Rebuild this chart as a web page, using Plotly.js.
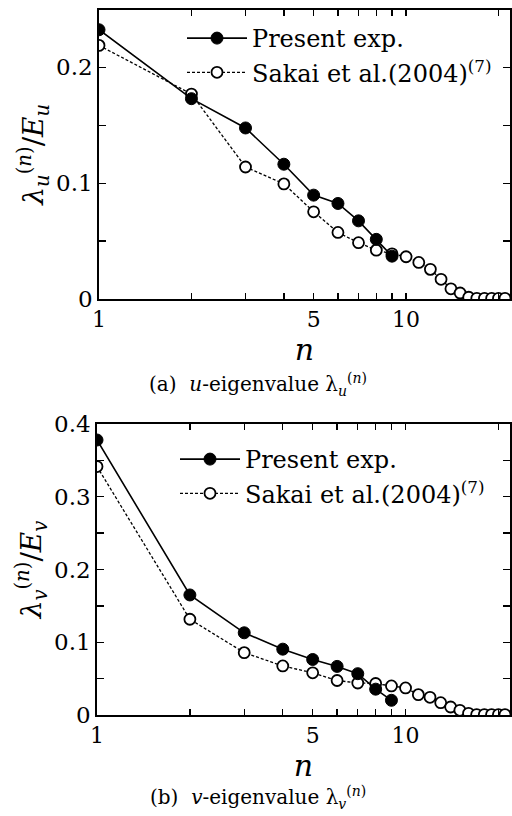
<!DOCTYPE html>
<html>
<head>
<meta charset="utf-8">
<script src="https://cdn.plot.ly/plotly-3.0.1.min.js"></script>
<style>html,body{margin:0;padding:0;background:#fff;}#chart{width:512px;height:816px;}</style>
</head>
<body>
<div id="chart"></div>
<script>
// ---- data ----
const nPresent = [1, 2, 3, 4, 5, 6, 7, 8, 9];
const nSakai = [1, 2, 3, 4, 5, 6, 7, 8, 9, 10, 11, 12, 13, 14, 15, 16, 17, 18, 19, 20, 21];
const uPresent = [0.2325, 0.173, 0.1477, 0.1164, 0.0897, 0.0825, 0.0675, 0.0515, 0.037];
const uSakai = [0.219, 0.177, 0.114, 0.0994, 0.0753, 0.0575, 0.0486, 0.0422, 0.039, 0.0365, 0.0316, 0.0256, 0.017, 0.0088, 0.0052, 0.0015, 0.0006, 0.0006, 0.0006, 0.0006, 0.0006];
const vPresent = [0.378, 0.165, 0.113, 0.0905, 0.0763, 0.0668, 0.0568, 0.0355, 0.0202];
const vSakai = [0.3415, 0.1316, 0.0857, 0.0674, 0.058, 0.0474, 0.044, 0.0433, 0.0399, 0.0372, 0.028, 0.0243, 0.0169, 0.011, 0.0064, 0.0023, 0.0006, 0.0006, 0.0006, 0.0006, 0.0006];
const namePresent = 'Present exp.';
const nameSakai = 'Sakai et al.(2004)<sup>(7)</sup>';
const xTickVals = [1, 2, 3, 4, 5, 6, 7, 8, 9, 10, 20];
const xTickText = ['1', '', '', '', '5', '', '', '', '', '10', ''];
const uTickVals = [0, 0.05, 0.1, 0.15, 0.2];
const uTickText = ['0', '', '0.1', '', '0.2'];
const vTickVals = [0, 0.05, 0.1, 0.15, 0.2, 0.25, 0.3, 0.35, 0.4];
const vTickText = ['0', '', '0.1', '', '0.2', '', '0.3', '', '0.4'];
const captionA = '(a)  <i>u</i>-eigenvalue λ<sub><i>u</i></sub><sup>(<i>n</i>)</sup>';
const captionB = '(b)  <i>v</i>-eigenvalue λ<sub><i>v</i></sub><sup>(<i>n</i>)</sup>';

// ---- styles ----
const serif = 'DejaVu Serif';
const W = 512, H = 816;
const filled = {symbol: 'circle', size: 12, color: '#000', line: {color: '#000', width: 1}};
const open = {symbol: 'circle', size: 11, color: '#fff', line: {color: '#000', width: 1.8}};
const solid = {color: '#000', width: 1.6, dash: 'solid'};
const dotted = {color: '#000', width: 1.3, dash: '3px,2px'};

const traces = [
  {x: nSakai, y: uSakai, name: nameSakai, mode: 'lines+markers', marker: open, line: dotted, xaxis: 'x', yaxis: 'y', legend: 'legend', legendrank: 2},
  {x: nPresent, y: uPresent, name: namePresent, mode: 'lines+markers', marker: filled, line: solid, xaxis: 'x', yaxis: 'y', legend: 'legend', legendrank: 1},
  {x: nSakai, y: vSakai, name: nameSakai, mode: 'lines+markers', marker: open, line: dotted, xaxis: 'x2', yaxis: 'y2', legend: 'legend2', legendrank: 2},
  {x: nPresent, y: vPresent, name: namePresent, mode: 'lines+markers', marker: filled, line: solid, xaxis: 'x2', yaxis: 'y2', legend: 'legend2', legendrank: 1}
];

function xaxisCfg(domain, anchor) {
  return {
    type: 'log', range: [0, Math.log10(21.8)], domain: domain, anchor: anchor,
    tickmode: 'array', tickvals: xTickVals, ticktext: xTickText,
    ticks: 'inside', ticklen: 6, tickwidth: 1.3, tickcolor: '#000',
    showline: true, linecolor: '#000', linewidth: 1.8, mirror: 'ticks',
    showgrid: false, zeroline: false, automargin: false,
    tickfont: {family: serif, size: 22, color: '#000'},
    title: {text: '<i>n</i>', font: {family: serif, size: 30, color: '#000'}, standoff: 0}
  };
}
function yaxisCfg(domain, anchor, range, tv, tt, title) {
  return {
    range: range, domain: domain, anchor: anchor,
    tickmode: 'array', tickvals: tv, ticktext: tt,
    ticks: 'inside', ticklen: 7, tickwidth: 1.3, tickcolor: '#000',
    showline: true, linecolor: '#000', linewidth: 1.8, mirror: 'ticks',
    showgrid: false, zeroline: false, automargin: false,
    tickfont: {family: serif, size: 23, color: '#000'},
    title: {text: title, font: {family: serif, size: 28, color: '#000'}, standoff: 4}
  };
}

const layout = {
  width: W, height: H,
  margin: {l: 0, r: 0, t: 0, b: 0, autoexpand: false},
  paper_bgcolor: '#fff', plot_bgcolor: '#fff',
  font: {family: serif, color: '#000'},
  xaxis: xaxisCfg([99 / W, 510 / W], 'y'),
  yaxis: yaxisCfg([1 - 299 / H, 1 - 9.5 / H], 'x', [0, 0.25], uTickVals, uTickText,
    '<i>λ<sub>u</sub></i><sup>(<i>n</i>)</sup>/<i>E<sub>u</sub></i>'),
  xaxis2: xaxisCfg([97 / W, 510 / W], 'y2'),
  yaxis2: yaxisCfg([1 - 715 / H, 1 - 424 / H], 'x2', [0, 0.4], vTickVals, vTickText,
    '<i>λ<sub>v</sub></i><sup>(<i>n</i>)</sup>/<i>E<sub>v</sub></i>'),
  legend: {x: 182 / W, y: 1 - 16 / H, xanchor: 'left', yanchor: 'top', bgcolor: 'rgba(0,0,0,0)',
    font: {family: serif, size: 24, color: '#000'}, traceorder: 'normal', itemwidth: 60},
  legend2: {x: 175 / W, y: 1 - 437 / H, xanchor: 'left', yanchor: 'top', bgcolor: 'rgba(0,0,0,0)',
    font: {family: serif, size: 24, color: '#000'}, traceorder: 'normal', itemwidth: 60},
  annotations: [
    {text: captionA, xref: 'paper', yref: 'paper', x: 258 / W, y: 1 - 384 / H, xanchor: 'center', yanchor: 'middle', showarrow: false, font: {family: serif, size: 20, color: '#000'}},
    {text: captionB, xref: 'paper', yref: 'paper', x: 258 / W, y: 1 - 797 / H, xanchor: 'center', yanchor: 'middle', showarrow: false, font: {family: serif, size: 20, color: '#000'}}
  ],
  showlegend: true
};

Plotly.newPlot('chart', traces, layout, {displayModeBar: false, staticPlot: true});
</script>
</body>
</html>
